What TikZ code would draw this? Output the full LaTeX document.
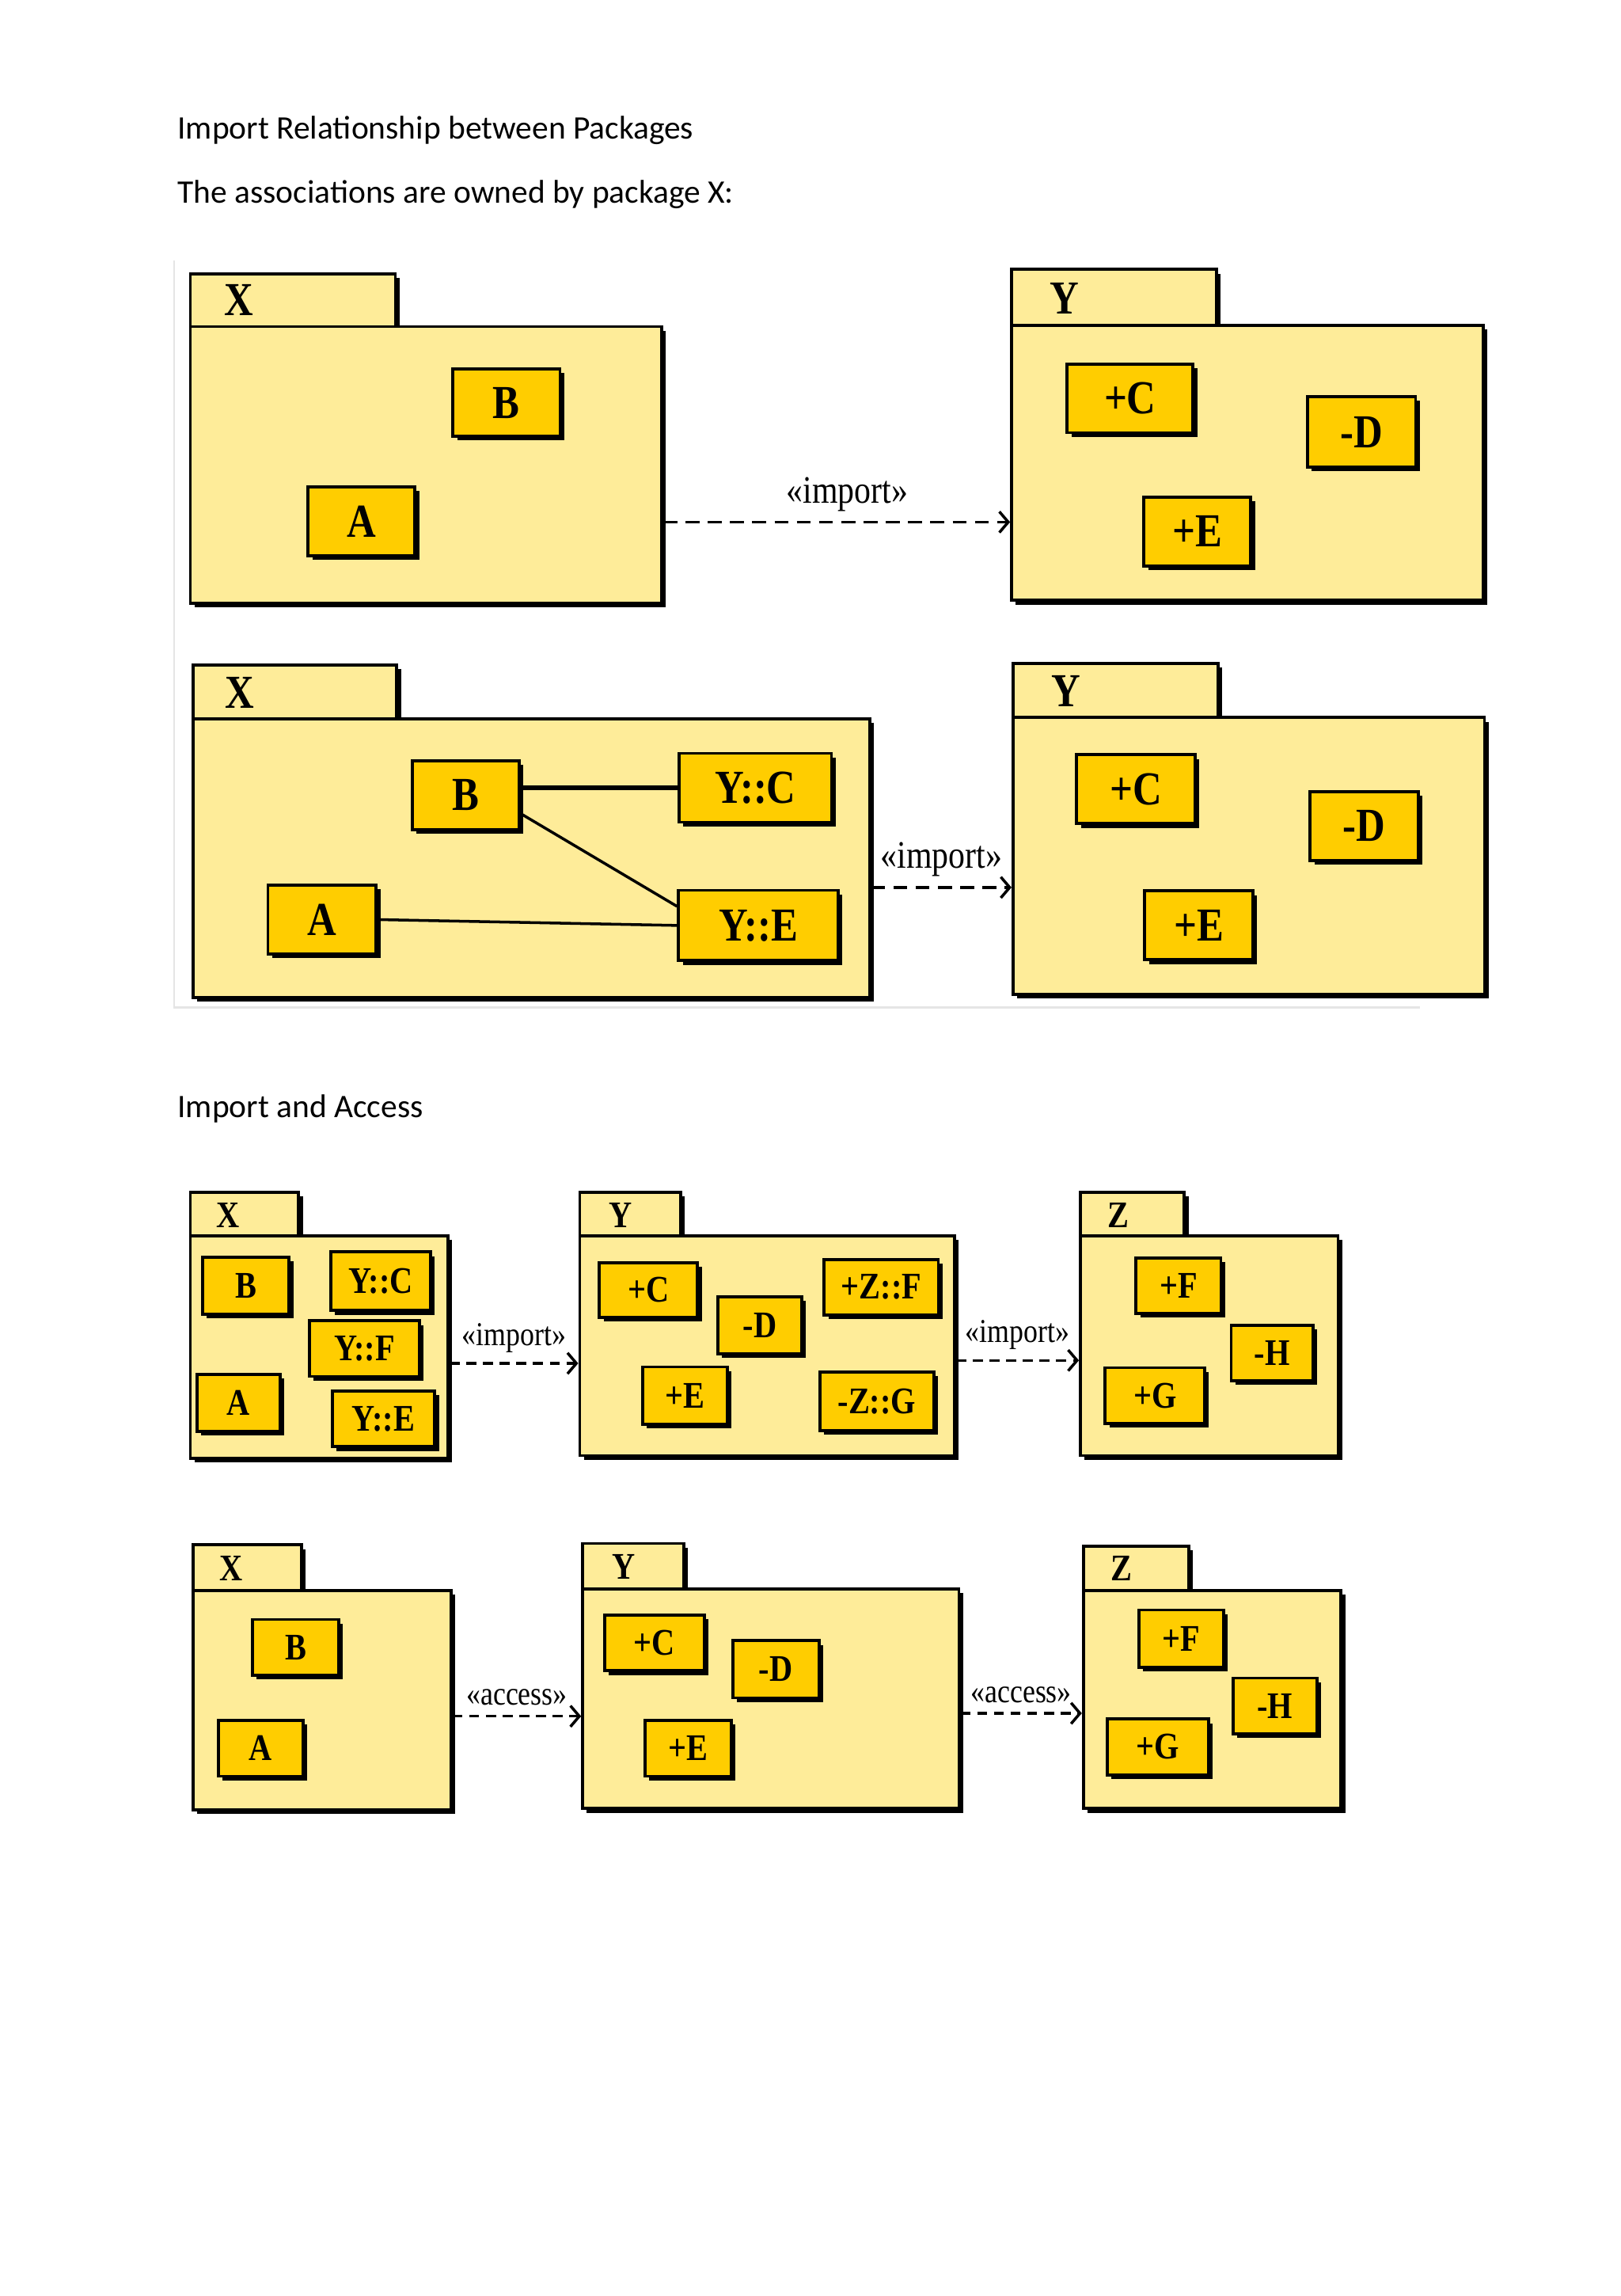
\documentclass[tikz,border=0pt]{standalone}
\usepackage{fontspec}
\setmainfont{Liberation Serif}
\newfontfamily\headfont{Carlito}
\newfontfamily\umlfont[FakeStretch=0.85]{Liberation Serif}
\usetikzlibrary{positioning, arrows.meta, calc, shadows}
\definecolor{PkgYellow}{RGB}{254,236,153}
\definecolor{ClsGold}{RGB}{255,205,0}
\newlength{\upx}
\setlength{\upx}{0.0185cm}
\newcommand{\clsbig}{\umlfont\bfseries\fontsize{17}{17}\selectfont}
\newcommand{\clssmall}{\umlfont\bfseries\fontsize{13.5}{13.5}\selectfont}
\newcommand{\stereobig}{\umlfont\fontsize{14}{14}\selectfont}
\newcommand{\stereosmall}{\umlfont\fontsize{12}{12}\selectfont}

\begin{document}
\begin{tikzpicture}[x=0.0185cm, y=-0.0185cm,
    boxshadow/.style={drop shadow={shadow xshift=1.5pt, shadow yshift=-1.5pt,
                      opacity=1, fill=black}},
    pkg/.style 2 args={draw, line width=1.1pt, fill=PkgYellow, boxshadow,
                       anchor=north west, inner sep=0pt,
                       minimum width=#1\upx, minimum height=#2\upx},
    cls/.style 2 args={draw, line width=1.1pt, fill=ClsGold, boxshadow,
                       inner sep=0pt, font=\clsbig,
                       minimum width=#1\upx, minimum height=#2\upx},
    clsb/.style 2 args={cls={#1}{#2}, font=\clssmall},
    pkgname/.style={font=\clsbig},
    pkgnameb/.style={font=\clssmall},
    heading/.style={anchor=west, inner sep=0pt,
                    font=\headfont\fontsize{11.8}{13}\selectfont},
    dep/.style={draw, line width=1pt, dash pattern=on 5pt off 3pt,
                -{Straight Barb[length=3.2pt, width=7.5pt]}},
    depb/.style={dep, dash pattern=on 3.6pt off 2.4pt},
    assoc/.style={draw, line width=1pt}
  ]
  \useasboundingbox (0,0) rectangle (1107,1568);

  % Headings
  \node[heading] (head1) at (121,89) {Import Relationship between Packages};
  \node[heading] (head2) at (121,133) {The associations are owned by package X:};
  \node[heading] (head3) at (121,757) {Import and Access};

  % faint frame of the first figure
  \draw[black!10, line width=0.6pt] (119,178) -- (119,688) -- (970,688);

  % ---- Row 1: X imports Y
  \node[pkg={140}{36}] (xatab) at (129,186) {};
  \node[pkg={322}{189}] (xa) at (129,222) {};
  \node[pkgname] (xaname) at (163,205) {X};
  \node[cls={73}{46}] (xaB) at (346,275) {B};
  \node[cls={73}{47}] (xaA) at (247,356) {A};

  \node[pkg={140}{38}] (yatab) at (690,183) {};
  \node[pkg={322}{188}] (ya) at (690,221) {};
  \node[pkgname] (yaname) at (727,204) {Y};
  \node[cls={86}{47}] (yaC) at (772,272) {+C};
  \node[cls={74}{48}] (yaD) at (930,295) {-D};
  \node[cls={73}{47}] (yaE) at (818,363) {+E};

  \draw[dep] ($(xa.east)+(0,39)$) coordinate (xaout) -- (ya.west |- xaout)
    node[pos=0.53, above, font=\stereobig] (impa) {«import»};

  % ---- Row 2: associations owned by X
  \node[pkg={139}{37}] (xbtab) at (131,453) {};
  \node[pkg={462}{190}] (xb) at (131,490) {};
  \node[pkgname] (xbname) at (164,473) {X};
  \node[cls={73}{47}] (xbB) at (318,543) {B};
  \node[cls={104}{47}] (xbYC) at (516,538) {Y::C};
  \node[cls={74}{47}] (xbA) at (220,628) {A};
  \node[cls={109}{48}] (xbYE) at (518,632) {Y::E};

  \draw[assoc, line width=1.6pt] (xbB.east |- xbYC.west) -- (xbYC.west);
  \draw[assoc] ($(xbB.south east)+(0,-12)$) -- ($(xbYE.north west)+(0,12)$);
  \draw[assoc] (xbA.east) -- (xbYE.west);

  \node[pkg={140}{37}] (ybtab) at (691,452) {};
  \node[pkg={322}{189}] (yb) at (691,489) {};
  \node[pkgname] (ybname) at (728,472) {Y};
  \node[cls={81}{47}] (ybC) at (776,539) {+C};
  \node[cls={74}{47}] (ybD) at (932,564) {-D};
  \node[cls={74}{47}] (ybE) at (819,632) {+E};

  \draw[dep] ($(xb.east)+(0,20)$) coordinate (xbout) -- (yb.west |- xbout)
    node[midway, above, font=\stereobig] (impb) {«import»};

  % ---- Row 3: import chain X -> Y -> Z
  \node[pkg={74}{30}] (xctab) at (129,813) {};
  \node[pkg={176}{152}] (xc) at (129,843) {};
  \node[pkgnameb] (xcname) at (156,830) {X};
  \node[clsb={59}{39}] (xcB) at (168,878) {B};
  \node[clsb={68}{40}] (xcYC) at (260,875) {Y::C};
  \node[clsb={75}{38}] (xcYF) at (249,921) {Y::F};
  \node[clsb={57}{39}] (xcA) at (163,958) {A};
  \node[clsb={70}{38}] (xcYE) at (262,969) {Y::E};

  \node[pkg={69}{30}] (yctab) at (395,813) {};
  \node[pkg={256}{150}] (yc) at (395,843) {};
  \node[pkgnameb] (ycname) at (424,830) {Y};
  \node[clsb={67}{37}] (ycC) at (443,881) {+C};
  \node[clsb={57}{39}] (ycD) at (519,905) {-D};
  \node[clsb={78}{38}] (ycZF) at (602,879) {+Z::F};
  \node[clsb={58}{39}] (ycE) at (468,953) {+E};
  \node[clsb={78}{40}] (ycZG) at (599,957) {-Z::G};

  \node[pkg={71}{30}] (zctab) at (737,813) {};
  \node[pkg={176}{150}] (zc) at (737,843) {};
  \node[pkgnameb] (zcname) at (764,830) {Z};
  \node[clsb={58}{38}] (zcF) at (805,878) {+F};
  \node[clsb={56}{38}] (zcH) at (869,924) {-H};
  \node[clsb={68}{38}] (zcG) at (789,953) {+G};

  \draw[depb] ($(xc.east)+(0,11)$) coordinate (xcout) -- (yc.west |- xcout)
    node[midway, above, font=\stereosmall] (impc) {«import»};
  \draw[depb] ($(yc.east)+(0,10)$) coordinate (ycout) -- (zc.west |- ycout)
    node[midway, above, font=\stereosmall] (impd) {«import»};

  % ---- Row 4: access chain X -> Y -> Z
  \node[pkg={74}{31}] (xdtab) at (131,1054) {};
  \node[pkg={176}{150}] (xd) at (131,1085) {};
  \node[pkgnameb] (xdname) at (158,1071) {X};
  \node[clsb={59}{38}] (xdB) at (202,1125) {B};
  \node[clsb={58}{38}] (xdA) at (178,1194) {A};

  \node[pkg={69}{31}] (ydtab) at (397,1053) {};
  \node[pkg={257}{150}] (yd) at (397,1084) {};
  \node[pkgnameb] (ydname) at (426,1070) {Y};
  \node[clsb={68}{38}] (ydC) at (447,1122) {+C};
  \node[clsb={59}{39}] (ydD) at (530,1140) {-D};
  \node[clsb={59}{38}] (ydE) at (470,1194) {+E};

  \node[pkg={72}{30}] (zdtab) at (739,1055) {};
  \node[pkg={176}{149}] (zd) at (739,1085) {};
  \node[pkgnameb] (zdname) at (766,1071) {Z};
  \node[clsb={58}{39}] (zdF) at (807,1119) {+F};
  \node[clsb={57}{38}] (zdH) at (871,1165) {-H};
  \node[clsb={69}{38}] (zdG) at (791,1193) {+G};

  \draw[depb] ($(xd.east)+(0,11)$) coordinate (xdout) -- (yd.west |- xdout)
    node[midway, above, font=\stereosmall] (acca) {«access»};
  \draw[depb] ($(yd.east)+(0,10)$) coordinate (ydout) -- (zd.west |- ydout)
    node[midway, above, font=\stereosmall] (accb) {«access»};
\end{tikzpicture}
\end{document}
